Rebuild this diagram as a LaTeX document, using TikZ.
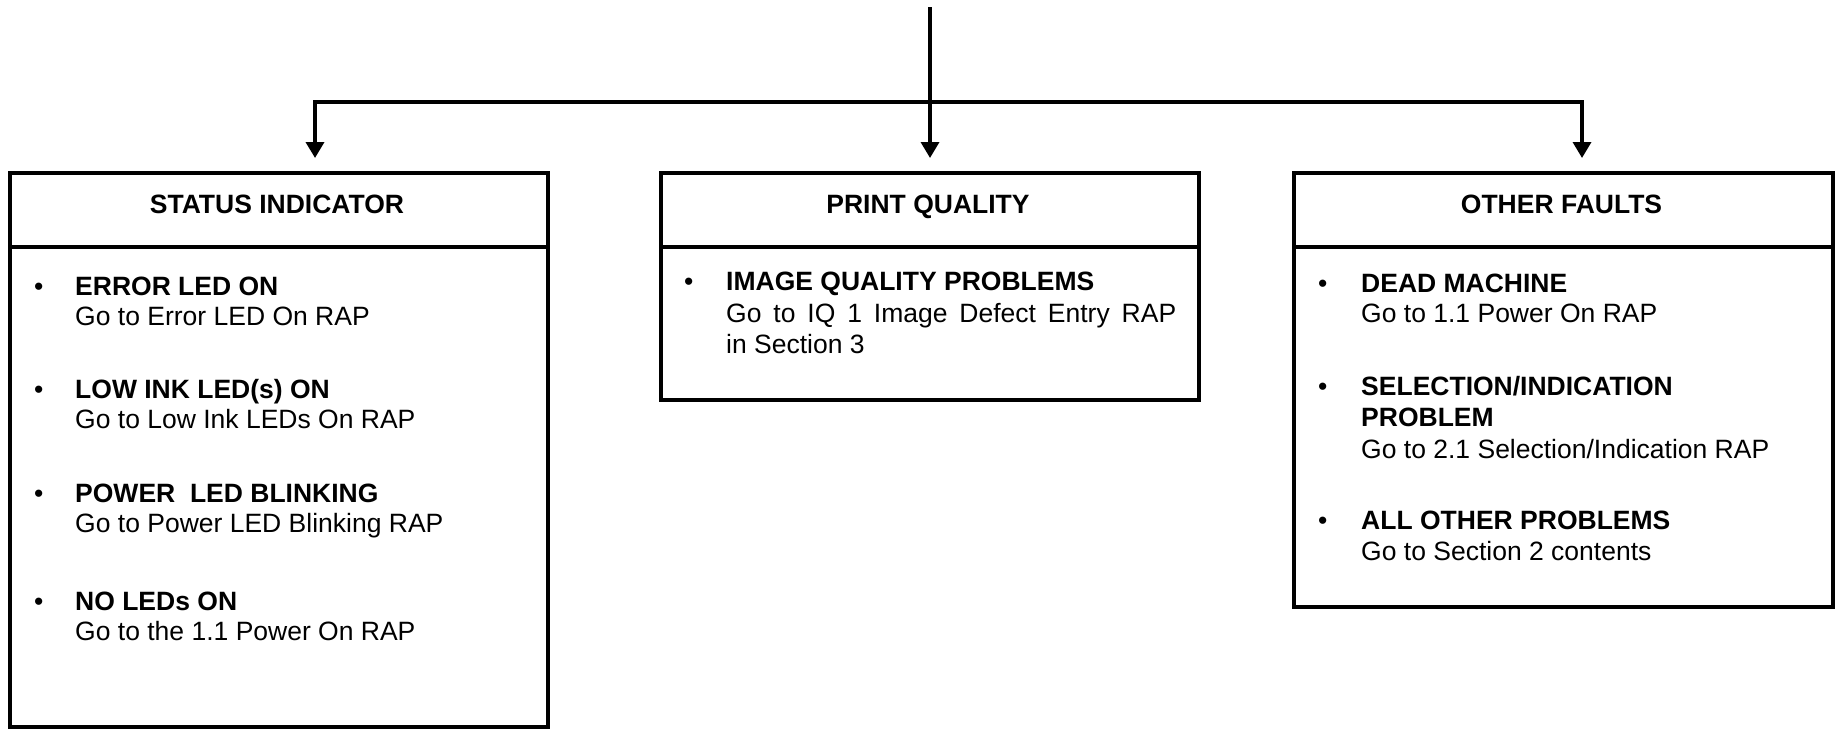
\documentclass[tikz,border=0pt]{standalone}
\usepackage{fontspec}
\setmainfont{Liberation Sans}
\usetikzlibrary{arrows.meta}
\newcommand{\diagsize}{\fontsize{26.5}{31}\selectfont}
\tikzset{
  boxshape/.style={draw, line width=4pt, rectangle, inner sep=0pt, anchor=north west},
  divider/.style={line width=4pt},
  wire/.style={line width=3.5pt},
  conn/.style={line width=3.5pt, -{Triangle[length=16pt,width=18pt]}},
  hd/.style={font=\diagsize\bfseries, anchor=base, inner sep=0pt},
  bt/.style={font=\diagsize\bfseries, anchor=base west, inner sep=0pt},
  nt/.style={font=\diagsize, anchor=base west, inner sep=0pt},
  bul/.style={font=\diagsize, anchor=base west, inner sep=0pt}
}
\begin{document}
\begin{tikzpicture}[x=1pt,y=-1pt]
\useasboundingbox (0,0) rectangle (1836,728);
% boxes
\node[boxshape, minimum width=538pt, minimum height=554pt] (si) at (8,171) {};
\node[boxshape, minimum width=538pt, minimum height=227pt] (pq) at (659,171) {};
\node[boxshape, minimum width=539pt, minimum height=434pt] (of) at (1292,171) {};
\draw[divider] (si.west |- 0,247) -- (si.east |- 0,247);
\draw[divider] (pq.west |- 0,247) -- (pq.east |- 0,247);
\draw[divider] (of.west |- 0,247) -- (of.east |- 0,247);
% connectors
\coordinate (src) at (930,7);
\coordinate (jl) at (315,102);
\coordinate (jm) at (930,102);
\coordinate (jr) at (1582,102);
\draw[conn] (src) -- ([yshift=13pt] jm |- pq.north);
\draw[conn] (jm) -- (jl) -- ([yshift=13pt] jl |- si.north);
\draw[conn] (jm) -- (jr) -- ([yshift=13pt] jr |- of.north);
% headers
\node[hd] (sih) at (277,213) {STATUS INDICATOR};
\node[hd] (pqh) at (928,213) {PRINT QUALITY};
\node[hd] (ofh) at (1561.5,213) {OTHER FAULTS};
% status indicator items
\node[bul] (b1) at (34,295) {•};
\node[bt] (t1) at (75,295) {ERROR LED ON};
\node[nt] (g1) at (75,325) {Go to Error LED On RAP};
\node[bul] (b2) at (34,398) {•};
\node[bt] (t2) at (75,398) {LOW INK LED(s) ON};
\node[nt] (g2) at (75,428) {Go to Low Ink LEDs On RAP};
\node[bul] (b3) at (34,502) {•};
\node[bt] (t3) at (75,502) {POWER\ \ LED BLINKING};
\node[nt] (g3) at (75,532) {Go to Power LED Blinking RAP};
\node[bul] (b4) at (34,610) {•};
\node[bt] (t4) at (75,610) {NO LEDs ON};
\node[nt] (g4) at (75,640) {Go to the 1.1 Power On RAP};
% print quality items
\node[bul] (b5) at (684,290) {•};
\node[bt] (t5) at (726,290) {IMAGE QUALITY PROBLEMS};
\node[nt] (g5) at (726,322) {\makebox[450pt][s]{Go to IQ 1 Image Defect Entry RAP}};
\node[nt] (g5b) at (726,353) {in Section 3};
% other faults items
\node[bul] (b6) at (1318,292) {•};
\node[bt] (t6) at (1361,292) {DEAD MACHINE};
\node[nt] (g6) at (1361,322) {Go to 1.1 Power On RAP};
\node[bul] (b7) at (1318,395) {•};
\node[bt] (t7) at (1361,395) {SELECTION/INDICATION};
\node[bt] (t7b) at (1361,426) {PROBLEM};
\node[nt] (g7) at (1361,458) {Go to 2.1 Selection/Indication RAP};
\node[bul] (b8) at (1318,529) {•};
\node[bt] (t8) at (1361,529) {ALL OTHER PROBLEMS};
\node[nt] (g8) at (1361,560) {Go to Section 2 contents};
\end{tikzpicture}
\end{document}
